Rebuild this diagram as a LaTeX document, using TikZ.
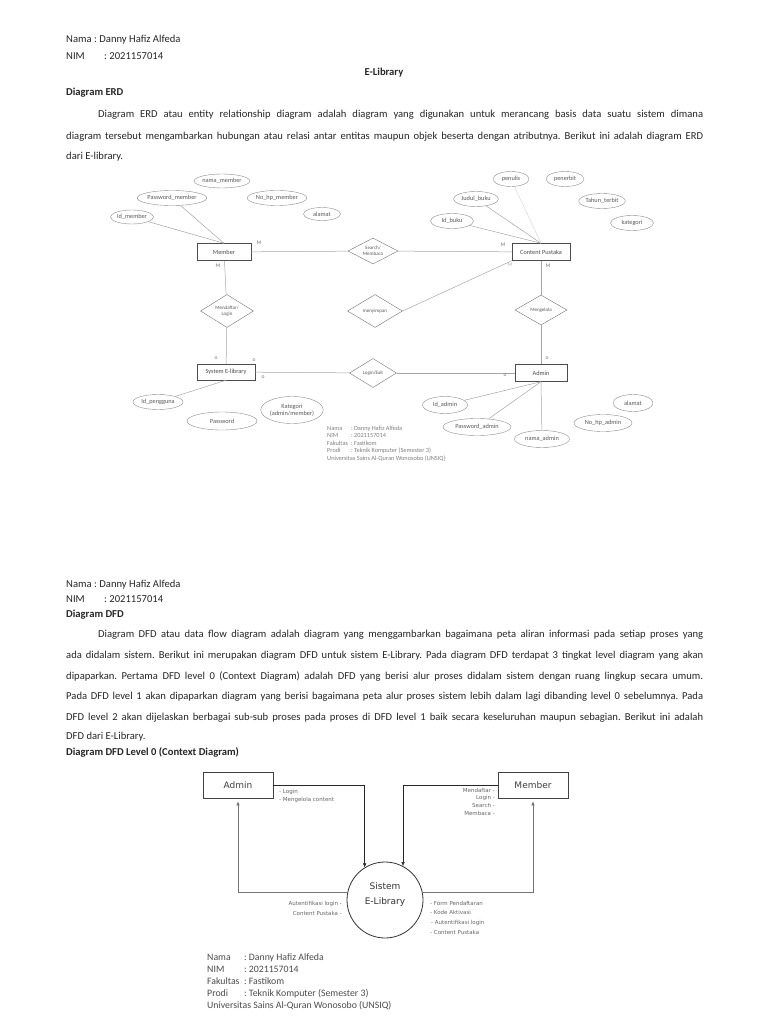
\documentclass[tikz,border=0pt]{standalone}
\usepackage{fontspec}
\setmainfont{Carlito}
\newfontfamily\dfdfont{DejaVu Sans}
\usetikzlibrary{shapes.geometric,arrows.meta,calc,positioning}
\newcommand\bodyfont{\fontsize{10.6}{13}\selectfont}
\frenchspacing

\begin{document}
\begin{tikzpicture}[x=1pt,y=-1pt,
    body/.style={anchor=base west,inner sep=0pt,font=\bodyfont,text=black!85},
    attr/.style={ellipse,draw=black!45,inner sep=0pt,font=\fontsize{6.3}{7}\selectfont,text=black!65},
    entity/.style={rectangle,draw=black!70,inner sep=0pt,minimum width=54,minimum height=17,font=\fontsize{6.3}{7}\selectfont,text=black!70},
    relation/.style={diamond,aspect=2,draw=black!55,inner sep=0pt,align=center,font=\fontsize{5}{5.8}\selectfont,text=black!65},
    erdline/.style={draw=black!35,line width=0.5pt},
    card/.style={inner sep=0pt,font=\fontsize{5.5}{5.5}\selectfont,text=black!55},
    dfdbox/.style={rectangle,draw=black!75,line width=0.7pt,minimum width=70,minimum height=26,font=\dfdfont\fontsize{9}{10}\selectfont,text=black!75},
    flow/.style={inner sep=0pt,font=\dfdfont\fontsize{5.5}{6}\selectfont,text=black!60},
    flowline/.style={draw=black!85,line width=0.6pt,-{Latex[length=4pt,width=3.5pt]}},
    backline/.style={draw=black!55,line width=0.6pt,-{Latex[length=4pt,width=3.5pt]},shorten >=3pt}]
  % page
  \fill[white] (0,0) rectangle (768,1024);
  \useasboundingbox (0,0) rectangle (768,1024);

  % header ERD
  \node[body] (namaA) at (66,43) {Nama};
  \node[body] (namaAv) at (94,43) {: Danny Hafiz Alfeda};
  \node[body] (nimA) at (66,59.5) {NIM};
  \node[body] (nimAv) at (104,59.5) {: 2021157014};
  \node[body,anchor=base,font=\bodyfont\bfseries] (judul) at (384,76) {E-Library};
  \node[body,font=\bodyfont\bfseries] (erdhead) at (66,96) {Diagram ERD};
  \node[body] (erdp1) at (98,118) {\makebox[605pt][s]{Diagram ERD atau entity relationship diagram adalah diagram yang digunakan untuk merancang basis data suatu sistem dimana}};
  \node[body] (erdp2) at (66,139.5) {\makebox[637pt][s]{diagram tersebut mengambarkan hubungan atau relasi antar entitas maupun objek beserta dengan atributnya. Berikut ini adalah diagram ERD}};
  \node[body] (erdp3) at (66,160) {dari E-library.};

  % entities
  \node[entity] (member) at (224,252) {Member};
  \node[entity,minimum width=58] (content) at (541,252) {Content Pustaka};
  \node[entity,minimum width=58,minimum height=16] (sistem) at (226,372) {System E-library};
  \node[entity,minimum width=52] (admin) at (541,373) {Admin};
  % relations
  \node[relation,minimum width=50,minimum height=26] (search) at (373,251) {Search/\\Membaca};
  \node[relation,minimum width=53,minimum height=33] (daftar) at (227,311) {Mendaftar/\\Login};
  \node[relation,minimum width=55,minimum height=33] (simpan) at (375,311) {menyimpan};
  \node[relation,minimum width=52,minimum height=30] (kelola) at (541,310) {Mengelola};
  \node[relation,minimum width=47,minimum height=29] (logexit) at (373,373) {Login/Exit};
  % attributes member
  \node[attr,minimum width=53,minimum height=14] (namamember) at (222,181) {nama\_member};
  \node[attr,minimum width=63,minimum height=15] (passmember) at (172,198) {Password\_member};
  \node[attr,minimum width=53,minimum height=15] (nohpmember) at (277,198) {No\_hp\_member};
  \node[attr,minimum width=37,minimum height=13] (alamatmember) at (322,214) {alamat};
  \node[attr,minimum width=43,minimum height=14] (idmember) at (132,217) {Id\_member};
  % attributes content
  \node[attr,minimum width=36,minimum height=15] (penulis) at (511,179) {penulis};
  \node[attr,minimum width=38,minimum height=15] (penerbit) at (565,179) {penerbit};
  \node[attr,minimum width=45,minimum height=15] (judulbuku) at (476,199) {Judul\_buku};
  \node[attr,minimum width=42,minimum height=15] (tahunterbit) at (602,201) {Tahun\_terbit};
  \node[attr,minimum width=43,minimum height=15] (idbuku) at (452,221) {Id\_buku};
  \node[attr,minimum width=43,minimum height=15] (kategoribuku) at (632,223) {kategori};
  % attributes system
  \node[attr,minimum width=50,minimum height=15] (idpengguna) at (158,402) {Id\_pengguna};
  \node[attr,minimum width=70,minimum height=18] (password) at (222,421) {Password};
  \node[attr,minimum width=55,minimum height=27,align=center] (kategori) at (292,410) {Kategori\\(admin/member)};
  % attributes admin
  \node[attr,minimum width=45,minimum height=17] (idadmin) at (445,405) {Id\_admin};
  \node[attr,minimum width=68,minimum height=17] (passadmin) at (477,427) {Password\_admin};
  \node[attr,minimum width=55,minimum height=17] (namaadmin) at (542,439) {nama\_admin};
  \node[attr,minimum width=58,minimum height=17] (nohpadmin) at (603,423) {No\_hp\_admin};
  \node[attr,minimum width=40,minimum height=17] (alamatadmin) at (633,403) {alamat};

  % erd lines
  \draw[erdline] (idmember) -- (member.north);
  \draw[erdline] (passmember) -- (member.north);
  \draw[erdline] (idbuku) -- (content.north);
  \draw[erdline] (judulbuku) -- (content.north);
  \draw[erdline,draw=black!15] (penulis) -- (content.north);
  \draw[erdline] (member) -- (search);
  \draw[erdline] (search) -- (content);
  \draw[erdline] (member) -- (daftar);
  \draw[erdline] (daftar) -- (sistem);
  \draw[erdline] (content.south west) -- (simpan.east);
  \draw[erdline] (content) -- (kelola);
  \draw[erdline] (kelola) -- (admin);
  \draw[erdline] (sistem) -- (logexit);
  \draw[erdline] (logexit) -- (admin);
  \draw[erdline] (sistem.south) -- (idpengguna);
  \draw[erdline] (admin.south) -- (idadmin);
  \draw[erdline] (admin.south) -- (passadmin);
  \draw[erdline] (admin.south) -- (namaadmin);

  % cardinality
  \node[card] (m1) at (259,243) {M};
  \node[card] (m2) at (218,266) {M};
  \node[card] (m3) at (503,245) {M};
  \node[card,text=black!30] (m4) at (510,265) {M};
  \node[card] (m5) at (548,266) {M};
  \node[card] (o1) at (216,358) {o};
  \node[card] (o2) at (254,360) {o};
  \node[card] (o3) at (263,377) {o};
  \node[card] (o4) at (505,375) {o};
  \node[card] (o5) at (547,358) {o};

  % footer ERD
  \node[anchor=base west,inner sep=0pt,font=\fontsize{6.3}{7.5}\selectfont,text=black!50] (footerd) at (327,430)
    {\begin{tabular}[t]{@{}l@{\hspace{3pt}}l@{}}
      Nama & : Danny Hafiz Alfeda\\
      NIM & : 2021157014\\
      Fakultas & : Fastikom\\
      Prodi & : Teknik Komputer (Semester 3)\\
      \multicolumn{2}{@{}l@{}}{Universitas Sains Al-Quran Wonosobo (UNSIQ)}
    \end{tabular}};

  % header DFD
  \node[body] (namaB) at (66,587) {Nama};
  \node[body] (namaBv) at (94,587) {: Danny Hafiz Alfeda};
  \node[body] (nimB) at (66,602.3) {NIM};
  \node[body] (nimBv) at (104,602.3) {: 2021157014};
  \node[body,font=\bodyfont\bfseries] (dfdhead) at (66,617) {Diagram DFD};
  \node[body] (dfdp1) at (98,637) {\makebox[605pt][s]{Diagram DFD atau data flow diagram adalah diagram yang menggambarkan bagaimana peta aliran informasi pada setiap proses yang}};
  \node[body] (dfdp2) at (66,658) {\makebox[637pt][s]{ada didalam sistem. Berikut ini merupakan diagram DFD untuk sistem E-Library. Pada diagram DFD terdapat 3 tingkat level diagram yang akan}};
  \node[body] (dfdp3) at (66,679) {\makebox[637pt][s]{dipaparkan. Pertama DFD level 0 (Context Diagram) adalah DFD yang berisi alur proses didalam sistem dengan ruang lingkup secara umum.}};
  \node[body] (dfdp4) at (66,699.7) {\makebox[637pt][s]{Pada DFD level 1 akan dipaparkan diagram yang berisi bagaimana peta alur proses sistem lebih dalam lagi dibanding level 0 sebelumnya. Pada}};
  \node[body] (dfdp5) at (66,720.7) {\makebox[637pt][s]{DFD level 2 akan dijelaskan berbagai sub-sub proses pada proses di DFD level 1 baik secara keseluruhan maupun sebagian. Berikut ini adalah}};
  \node[body] (dfdp6) at (66,739.7) {DFD dari E-Library.};
  \node[body,font=\bodyfont\bfseries] (dfdhead0) at (66,755.7) {Diagram DFD Level 0 (Context Diagram)};

  % context diagram
  \node[dfdbox] (admindfd) at (238,785) {Admin};
  \node[dfdbox] (memberdfd) at (533,785) {Member};
  \node[circle,draw=black!80,line width=0.8pt,minimum size=76,inner sep=0pt] (proc) at (385,900) {};
  \node[align=center,inner sep=0pt,font=\dfdfont\fontsize{9}{15}\selectfont,text=black!80] (proclabel) at ($(proc.center)+(0,-5.5)$) {Sistem\\E-Library};
  % flows
  \draw[flowline] (admindfd.east) -| (proc.122);
  \draw[flowline] (memberdfd.west) -| (proc.62);
  \draw[backline] (proc.169) -| (admindfd.south);
  \draw[backline] (proc.11) -| (memberdfd.south);
  % flow labels
  \node[flow,anchor=base west] (fa1) at (279,793) {- Login};
  \node[flow,anchor=base west] (fa2) at (279,801) {- Mengelola content};
  \node[flow,anchor=base east] (fm1) at (495,792) {Mendaftar -};
  \node[flow,anchor=base east] (fm2) at (495,799.7) {Login -};
  \node[flow,anchor=base east] (fm3) at (495,807.3) {Search -};
  \node[flow,anchor=base east] (fm4) at (495,815) {Membaca -};
  \node[flow,anchor=base east] (fs1) at (342,905) {Autentifikasi login -};
  \node[flow,anchor=base east] (fs2) at (342,915) {Content Pustaka -};
  \node[flow,anchor=base west] (fr1) at (430,905) {- Form Pendaftaran};
  \node[flow,anchor=base west] (fr2) at (430,914.7) {- Kode Aktivasi};
  \node[flow,anchor=base west] (fr3) at (431,924.3) {- Autentifikasi login};
  \node[flow,anchor=base west] (fr4) at (430,934) {- Content Pustaka};

  % footer DFD
  \node[anchor=base west,inner sep=0pt,font=\fontsize{9.8}{12}\selectfont,text=black!70] (footdfd) at (207,960)
    {\begin{tabular}[t]{@{}l@{\hspace{4.5pt}}l@{}}
      Nama & : Danny Hafiz Alfeda\\
      NIM & : 2021157014\\
      Fakultas & : Fastikom\\
      Prodi & : Teknik Komputer (Semester 3)\\
      \multicolumn{2}{@{}l@{}}{Universitas Sains Al-Quran Wonosobo (UNSIQ)}
    \end{tabular}};
\end{tikzpicture}
\end{document}
